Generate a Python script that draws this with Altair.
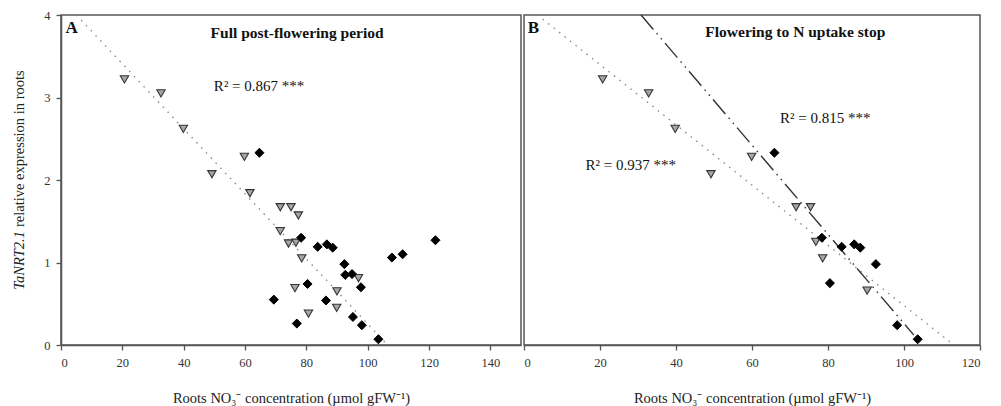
import altair as alt
import pandas as pd

FONT = "Liberation Serif"

# ---------------- data ----------------
# Panel A: full post-flowering period
A_tri_x = [20.7, 32.6, 39.9, 59.8, 49.2, 61.6, 71.5, 75.0, 77.4, 71.5, 74.2, 76.6, 78.5, 76.3, 80.7, 90.0, 89.9, 97.0]
A_tri_y = [3.22, 3.05, 2.62, 2.28, 2.07, 1.84, 1.67, 1.67, 1.57, 1.38, 1.23, 1.24, 1.05, 0.69, 0.38, 0.65, 0.45, 0.81]
A_dia_x = [64.7, 78.3, 83.7, 86.7, 88.6, 92.4, 92.7, 94.9, 97.8, 80.4, 69.4, 86.4, 95.2, 98.1, 76.9, 103.5, 107.9, 111.4, 122.1]
A_dia_y = [2.33, 1.30, 1.19, 1.22, 1.18, 0.98, 0.85, 0.86, 0.70, 0.74, 0.55, 0.54, 0.34, 0.24, 0.26, 0.07, 1.06, 1.10, 1.27]
A_fit_x = [5.0, 106.5]
A_fit_y = [4.0, 0.0]

# Panel B: flowering to N uptake stop
B_tri_x = [20.7, 32.8, 39.8, 59.9, 49.2, 71.6, 75.4, 76.8, 78.6, 90.3]
B_tri_y = [3.22, 3.05, 2.62, 2.28, 2.07, 1.67, 1.67, 1.25, 1.05, 0.66]
B_dia_x = [65.9, 78.4, 83.6, 86.9, 88.5, 92.6, 80.5, 98.2, 103.6]
B_dia_y = [2.33, 1.30, 1.19, 1.22, 1.18, 0.98, 0.75, 0.24, 0.07]
B_fit_tri_x = [4.9, 113.1]
B_fit_tri_y = [3.95, 0.0]
B_fit_dia_x = [30.8, 102.6]
B_fit_dia_y = [4.0, 0.12]

# annotations (data coordinates)
A_letter = ["A"]
A_title = ["Full post-flowering period"]
A_r2 = ["R\u00b2 = 0.867 ***"]
B_letter = ["B"]
B_title = ["Flowering to N uptake stop"]
B_r2 = ["R\u00b2 = 0.815 ***", "R\u00b2 = 0.937 ***"]

A_x_ticks = [0, 20, 40, 60, 80, 100, 120, 140]
B_x_ticks = [0, 20, 40, 60, 80, 100, 120]
y_ticks = [0, 1, 2, 3, 4]

X_TITLE = "Roots NO\u2083\u207b concentration (\u00b5mol gFW\u207b\u00b9)"
Y_TITLE_ITALIC = "TaNRT2.1"
Y_TITLE_REST = "relative expression in roots"


def xy(xs, ys):
    return pd.DataFrame({"x": xs, "y": ys})


def panel(tri_x, tri_y, dia_x, dia_y, fits, texts, xdom, xticks, width, yaxis):
    xsc = alt.Scale(domain=xdom, nice=False, zero=False)
    ysc = alt.Scale(domain=[0, 4], nice=False)
    xax = alt.Axis(values=xticks, title=X_TITLE, grid=False, format="d")
    if yaxis:
        yax = alt.Axis(values=y_ticks, title=None, grid=False, format="d")
    else:
        yax = None
    X = alt.X("x:Q", scale=xsc, axis=xax)
    Y = alt.Y("y:Q", scale=ysc, axis=yax)

    layers = []
    for fx, fy, dash, col in fits:
        layers.append(
            alt.Chart(xy(fx, fy)).mark_line(strokeDash=dash, color=col, strokeWidth=1.4)
            .encode(x=X, y=Y)
        )
    layers.append(
        alt.Chart(xy(tri_x, tri_y)).mark_point(
            shape="triangle-down", filled=True, fill="#a6a6a6", stroke="#333333",
            strokeWidth=1.1, size=70, opacity=1)
        .encode(x=X, y=Y)
    )
    layers.append(
        alt.Chart(xy(dia_x, dia_y)).mark_point(
            shape="diamond", filled=True, fill="#000000", stroke="#000000",
            strokeWidth=1, size=82, opacity=1)
        .encode(x=X, y=Y)
    )
    for tx, ty, t, size, weight, align in texts:
        layers.append(
            alt.Chart(pd.DataFrame({"x": [tx], "y": [ty], "t": [t]})).mark_text(
                font=FONT, fontSize=size, fontWeight=weight, align=align,
                baseline="middle", color="#111111")
            .encode(x=X, y=Y, text="t:N")
        )
    if yaxis:
        layers.append(
            alt.Chart(pd.DataFrame({"t": [Y_TITLE_ITALIC]})).mark_text(
                font=FONT, fontSize=14.5, fontStyle="italic", angle=270,
                align="right", baseline="middle", color="#222222")
            .encode(x=alt.value(-41), y=alt.value(216), text="t:N")
        )
        layers.append(
            alt.Chart(pd.DataFrame({"t": [Y_TITLE_REST]})).mark_text(
                font=FONT, fontSize=14.5, angle=270,
                align="left", baseline="middle", color="#222222")
            .encode(x=alt.value(-41), y=alt.value(212), text="t:N")
        )
    return alt.layer(*layers).properties(width=width, height=330)


dots = [1.5, 5.5]
dashdot = [19, 5, 1.5, 5, 1.5, 5]

panelA = panel(
    A_tri_x, A_tri_y, A_dia_x, A_dia_y,
    [(A_fit_x, A_fit_y, dots, "#8a8a8a")],
    [(1.5, 3.84, A_letter[0], 17, "bold", "left"),
     (77.0, 3.78, A_title[0], 15.5, "bold", "center"),
     (64.6, 3.14, A_r2[0], 15, "normal", "center")],
    [0, 150], A_x_ticks, 460, True,
)

panelB = panel(
    B_tri_x, B_tri_y, B_dia_x, B_dia_y,
    [(B_fit_tri_x, B_fit_tri_y, dots, "#8a8a8a"),
     (B_fit_dia_x, B_fit_dia_y, dashdot, "#333333")],
    [(1.0, 3.84, B_letter[0], 17, "bold", "left"),
     (71.4, 3.79, B_title[0], 15.5, "bold", "center"),
     (79.3, 2.755, B_r2[0], 15, "normal", "center"),
     (28.1, 2.18, B_r2[1], 15, "normal", "center")],
    [0, 120], B_x_ticks, 456, False,
)

chart = (
    alt.hconcat(panelA, panelB, spacing=0)
    .properties(padding={"left": 3, "top": 0, "right": 5, "bottom": 0})
    .configure_view(stroke="#555555", strokeWidth=1.5)
    .configure_axis(
        domainColor="#555555", domainWidth=1.5, tickColor="#555555", tickWidth=1.3,
        tickSize=5, labelFont=FONT, labelFontSize=12.5, labelColor="#333333",
        labelPadding=6, titleFont=FONT, titleFontSize=14.5, titleFontWeight="normal",
        titleColor="#222222", titlePadding=23,
    )
    .configure_concat(spacing=0)
)

chart.save("out.html", embed_options={"renderer": "svg", "actions": False})
